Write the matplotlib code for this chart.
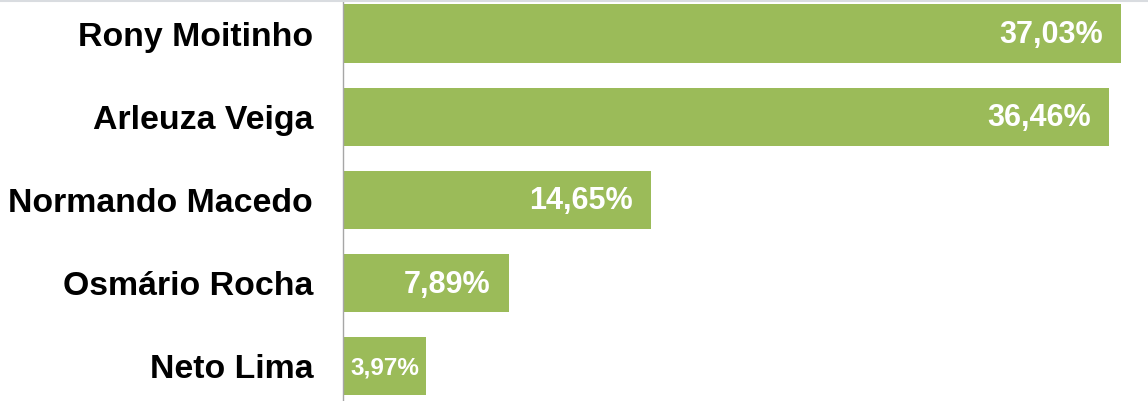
import matplotlib.pyplot as plt
from matplotlib.lines import Line2D

names = ['Rony Moitinho', 'Arleuza Veiga', 'Normando Macedo', 'Osmário Rocha', 'Neto Lima']
values = [37.03, 36.46, 14.65, 7.89, 3.97]
labels = ['37,03%', '36,46%', '14,65%', '7,89%', '3,97%']

green = '#9BBB59'

plt.rcParams['font.family'] = ['Liberation Sans', 'DejaVu Sans']

fig = plt.figure(figsize=(11.48, 4.01), dpi=100)
ax = fig.add_axes([343 / 1148, 0, 805 / 1148, 1])

pos = list(range(len(names)))
ax.barh(pos, values, height=0.70, color=green)

ax.set_ylim(4.42, -0.403)
ax.set_xlim(0, 38.33)

ax.set_yticks(pos)
ax.set_yticklabels(names, fontsize=24.4, fontweight='bold')
ax.tick_params(axis='y', length=0, pad=21.5)
ax.set_xticks([])

for sp in ['top', 'right', 'bottom']:
    ax.spines[sp].set_visible(False)
ax.spines['left'].set_color('#A6A6A6')
ax.spines['left'].set_linewidth(1)

# value labels inside the bars
for i, (v, lab) in enumerate(zip(values, labels)):
    if v < 5:
        ax.text(v / 2, i + 0.02, lab, ha='center', va='center', color='white',
                fontsize=17.5, fontweight='bold')
    else:
        ax.annotate(lab, (v, i + 0.02), xytext=(-13, 0), textcoords='offset points',
                    ha='right', va='center', color='white', fontsize=22, fontweight='bold')

# thin border line at the top of the image
fig.add_artist(Line2D([0, 1], [0.997, 0.997], transform=fig.transFigure,
                      color='#D9DCE0', linewidth=1.5))

fig.savefig('out.png', dpi=100)
